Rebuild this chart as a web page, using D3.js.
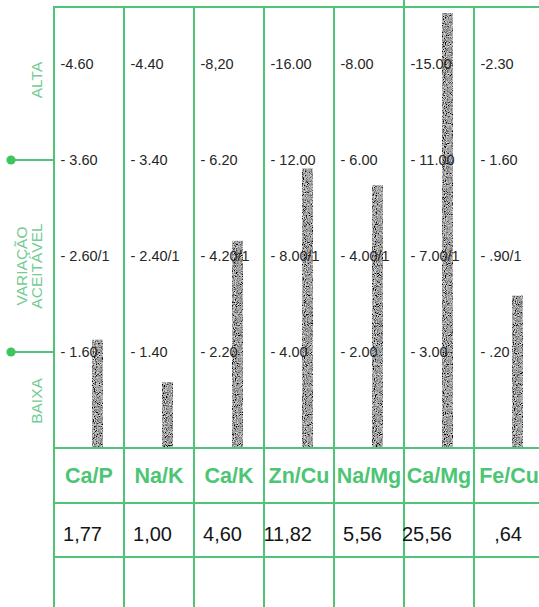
<!DOCTYPE html>
<html><head><meta charset="utf-8">
<script src="https://cdn.jsdelivr.net/npm/d3@7"></script>
<style>html,body{margin:0;padding:0;background:#fff;}svg{display:block;}</style>
</head><body>
<script>
// ---- data ----
const categories = ["Ca/P","Na/K","Ca/K","Zn/Cu","Na/Mg","Ca/Mg","Fe/Cu"];
const values = [1.77, 1.00, 4.60, 11.82, 5.56, 25.56, 0.64];
const valueLabels = ["1,77","1,00","4,60","11,82","5,56","25,56",",64"];
const lowValues = [1.60, 1.40, 2.20, 4.00, 2.00, 3.00, 0.20];
const altaValues = [4.60, 4.40, 8.20, 16.00, 8.00, 15.00, 2.30];
const altaLabels = ["-4.60","-4.40","-8,20","-16.00","-8.00","-15.00","-2.30"];
const highLabels = ["- 3.60","- 3.40","- 6.20","- 12.00","- 6.00","- 11.00","- 1.60"];
const midLabels = ["- 2.60/1","- 2.40/1","- 4.20/1","- 8.00/1","- 4.00/1","- 7.00/1","- .90/1"];
const lowLabels = ["- 1.60","- 1.40","- 2.20","- 4.00","- 2.00","- 3.00","- .20"];

const W = 539, H = 607;
const green = "#4fc476", textGreen = "#4cc574", sideGreen = "#74cb93";
const svg = d3.select("body").append("svg").attr("width", W).attr("height", H);

const defs = svg.append("defs");
const f = defs.append("filter").attr("id","grain").attr("x",0).attr("y",0).attr("width",1).attr("height",1);
f.append("feTurbulence").attr("type","fractalNoise").attr("baseFrequency",1.1).attr("numOctaves",1).attr("seed",4).attr("result","n");
f.append("feColorMatrix").attr("in","n").attr("type","matrix")
  .attr("values","1.8 0 0 0 -0.55  1.8 0 0 0 -0.55  1.8 0 0 0 -0.55  0 0 0 0 1").attr("result","g");
f.append("feComposite").attr("in","g").attr("in2","SourceGraphic").attr("operator","in");

const x = d3.scaleBand().domain(categories).range([54, 544]).padding(0);
const levelY = d3.scaleLinear().domain([0, 4]).range([448, 64]);
const topY = 7, chartBottom = 448, row1 = 503, row2 = 557;

// bars
categories.forEach((c, i) => {
  const s = d3.scaleLinear().domain([0, lowValues[i], altaValues[i]])
    .range([chartBottom, levelY(1) + 4, levelY(4) + 4]);
  const yv = Math.max(13, s(values[i]));
  svg.append("rect").attr("x", x(c) + 38).attr("width", 11)
    .attr("y", yv).attr("height", chartBottom - yv)
    .attr("fill", "#6e6e6e").attr("filter", "url(#grain)");
});

// grid
const g = svg.append("g").attr("stroke", green).attr("stroke-width", 2).attr("fill","none");
categories.forEach(c => {
  g.append("line").attr("x1", x(c)).attr("x2", x(c)).attr("y1", topY).attr("y2", H);
});
g.append("line").attr("x1", x("Ca/Mg")).attr("x2", x("Ca/Mg")).attr("y1", 0).attr("y2", topY);
[topY, chartBottom, row1, row2].forEach(y => {
  g.append("line").attr("x1", 53).attr("x2", W).attr("y1", y).attr("y2", y);
});
// reference markers
[1, 3].forEach(l => {
  g.append("line").attr("x1", 11).attr("x2", 54).attr("y1", levelY(l)).attr("y2", levelY(l));
  svg.append("circle").attr("cx", 11).attr("cy", levelY(l)).attr("r", 4.6).attr("fill", "#3fc460");
});

// tick labels
const rows = [[lowLabels,1],[midLabels,2],[highLabels,3],[altaLabels,4]];
rows.forEach(([labels, l]) => {
  svg.append("g").selectAll("text").data(categories).join("text")
    .attr("x", c => x(c) + 6.5).attr("y", levelY(l))
    .attr("dominant-baseline","central")
    .attr("font-family","Liberation Sans, Arial, sans-serif").attr("font-size", 14.5)
    .attr("fill", "#262626")
    .text((c, i) => labels[i]);
});

// header
svg.append("g").selectAll("text").data(categories).join("text")
  .attr("x", c => x(c) + x.bandwidth()/2).attr("y", 476)
  .attr("text-anchor","middle").attr("dominant-baseline","central")
  .attr("font-family","Liberation Sans, Arial, sans-serif").attr("font-size", 21.5).attr("font-weight","bold")
  .attr("fill", textGreen).text(c => c);

// values row
svg.append("g").selectAll("text").data(categories).join("text")
  .attr("x", c => x(c) + 48).attr("y", 534)
  .attr("text-anchor","end").attr("dominant-baseline","central")
  .attr("font-family","Liberation Sans, Arial, sans-serif").attr("font-size", 20)
  .attr("fill", "#151515").text((c, i) => valueLabels[i]);

// side labels
function side(txt, cx, cy, size) {
  svg.append("text").attr("transform", `translate(${cx},${cy}) rotate(-90)`)
    .attr("text-anchor","middle").attr("dominant-baseline","central")
    .attr("font-family","Liberation Sans, Arial, sans-serif").attr("font-size", size)
    .attr("fill", sideGreen).text(txt);
}
side("ALTA", 36, 80, 15.5);
side("VARIAÇÃO", 21, 266, 15.5);
side("ACEITÁVEL", 36, 266, 15.5);
side("BAIXA", 36, 401, 15.5);
</script>
</body></html>
